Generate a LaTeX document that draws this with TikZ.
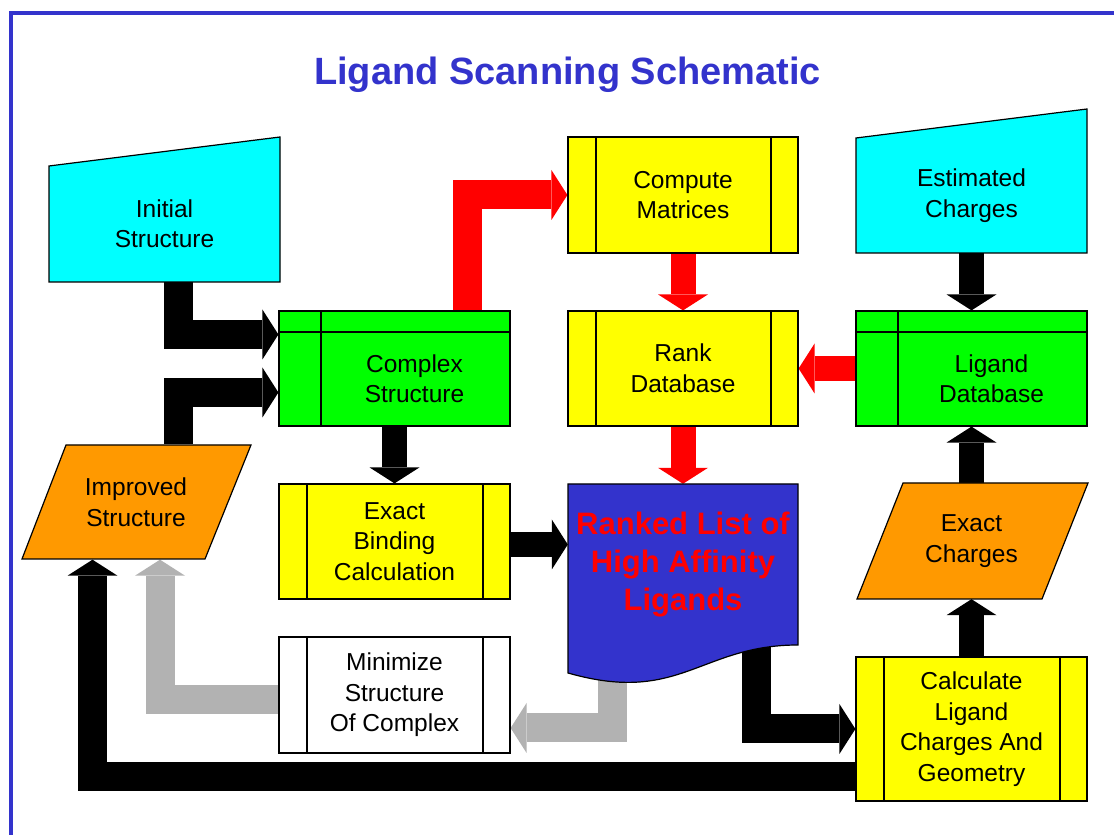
\documentclass[tikz,border=0pt]{standalone}
\usepackage{fontspec}
\setmainfont{Liberation Sans}
\usetikzlibrary{arrows.meta}
\pgfdeclarelayer{background}
\pgfsetlayers{background,main}

\definecolor{framblue}{RGB}{51,51,204}
\definecolor{flowgray}{RGB}{178,178,178}
\definecolor{inorange}{RGB}{255,153,0}
\definecolor{incyan}{RGB}{0,255,255}
\definecolor{storegreen}{RGB}{0,255,0}
\definecolor{procyellow}{RGB}{255,255,0}

\newcommand{\boxfont}{\fontsize{24.5}{30.5}\selectfont}

\tikzset{
  box/.style={draw, line width=1.2pt, minimum width=231pt, minimum height=115pt,
    inner sep=0pt, align=center, font=\boxfont},
  proc/.style={box, fill=procyellow, path picture={
      \draw[line width=1.2pt]
        ([xshift=28pt]path picture bounding box.south west) -- ([xshift=28pt]path picture bounding box.north west)
        ([xshift=-27pt]path picture bounding box.south east) -- ([xshift=-27pt]path picture bounding box.north east);}},
  store/.style={box, fill=storegreen, path picture={
      \draw[line width=1.2pt]
        ([xshift=42pt]path picture bounding box.south west) -- ([xshift=42pt]path picture bounding box.north west)
        ([yshift=-21pt]path picture bounding box.north west) -- ([yshift=-21pt]path picture bounding box.north east);}},
  txtbox/.style={minimum width=#1, minimum height=115pt, inner sep=0pt, align=center, font=\boxfont},
  outline/.style={draw, line width=1.2pt},
  arr/.style={line width=29pt, -{Triangle[width=50pt,length=16pt,line width=0pt]}},
  slim/.style={line width=25pt},
}

\begin{document}
\begin{tikzpicture}[x=1pt,y=1pt]
\useasboundingbox (0,0) rectangle (1114,835);
% frame and title
\draw[framblue, line width=4pt] (11,0) -- (11,822) -- (1114,822);
\node[anchor=base, text=framblue, font=\fontsize{38}{46}\selectfont\bfseries] (title) at (567.5,750) {Ligand Scanning Schematic};

% manual inputs
\filldraw[outline, fill=incyan] (49,553) -- (49,669) -- (280,698) -- (280,553) -- cycle;
\node[txtbox=231pt] (init) at (164.5,611) {Initial\\Structure};
\filldraw[outline, fill=incyan] (856,582) -- (856,697) -- (1087,726) -- (1087,582) -- cycle;
\node[txtbox=231pt] (est) at (971.5,639.5) {Estimated\\Charges};

% data (parallelograms)
\filldraw[outline, fill=inorange] (22,276) -- (205,276) -- (251,390) -- (66,390) -- cycle;
\node[txtbox=185pt] (impr) at (136,333) {Improved\\Structure};
\filldraw[outline, fill=inorange] (857,236) -- (1042,236) -- (1088,352) -- (903,352) -- cycle;
\node[txtbox=185pt, minimum height=116pt] (exch) at (971.5,294) {Exact\\Charges};

% processes and stores
\node[proc, minimum width=230pt, minimum height=116pt] (comp) at (683,640) {Compute\\Matrices};
\node[proc, minimum width=230pt] (rank) at (683,466.5) {Rank\\Database};
\node[store, label={[font=\boxfont, align=center, xshift=20pt, yshift=-10pt]center:Complex\\Structure}] (cplx) at (394.5,466.5) {};
\node[store, label={[font=\boxfont, align=center, xshift=20pt, yshift=-10pt]center:Ligand\\Database}] (ligdb) at (971.5,466.5) {};
\node[proc] (exact) at (394.5,293.5) {Exact\\Binding\\Calculation};
\node[proc, fill=white, minimum height=116pt] (mini) at (394.5,140) {Minimize\\Structure\\Of Complex};
\node[proc, minimum height=144pt] (calc) at (971.5,106) {Calculate\\Ligand\\Charges And\\Geometry};

% document
\filldraw[outline, fill=framblue] (568,351) -- (798,351) -- (798,190)
  .. controls (700,190) and (680,130) .. (568,162) -- cycle;
\node[minimum width=230pt, minimum height=161pt, inner sep=0pt, align=center, text=red,
  font=\fontsize{31}{38}\selectfont\bfseries] (ranked) at (683,270.5) {Ranked List of\\High Affinity\\Ligands};

% connectors
\begin{pgfonlayer}{background}
\fill[white] (0,0) rectangle (1114,835);
\draw[arr] ([xshift=14pt]init.south) |- ([yshift=34pt]cplx.west);
\draw[arr] ([xshift=42.5pt]impr.north) |- ([yshift=-24pt]cplx.west);
\draw[arr, red] ([xshift=73pt]cplx.north) |- (comp.west);
\draw[arr, slim, red] (comp) -- (rank);
\draw[arr, slim, red] (ligdb) -- (rank);
\draw[arr, slim, red] (rank) -- (ranked);
\draw[arr, slim] (est) -- (ligdb);
\draw[arr, slim] (cplx) -- (exact);
\draw[arr, slim] ([yshift=-3pt]exact.east) -- ([yshift=-3pt]exact.east -| ranked.west);
\draw[arr, slim] (exch) -- (ligdb);
\draw[arr, slim] (calc) -- (exch);
\draw[arr] ([xshift=73pt]ranked.south) |- (calc.west);
\draw[arr, flowgray] ([xshift=-71pt]ranked.south) |- ([yshift=-33pt]mini.east);
\draw[arr, flowgray] ([yshift=-5pt]mini.west) -| ([xshift=24pt]impr.south);
\draw[arr] ([yshift=-48pt]calc.west) -| ([xshift=-43.5pt]impr.south);
\end{pgfonlayer}
\end{tikzpicture}
\end{document}
